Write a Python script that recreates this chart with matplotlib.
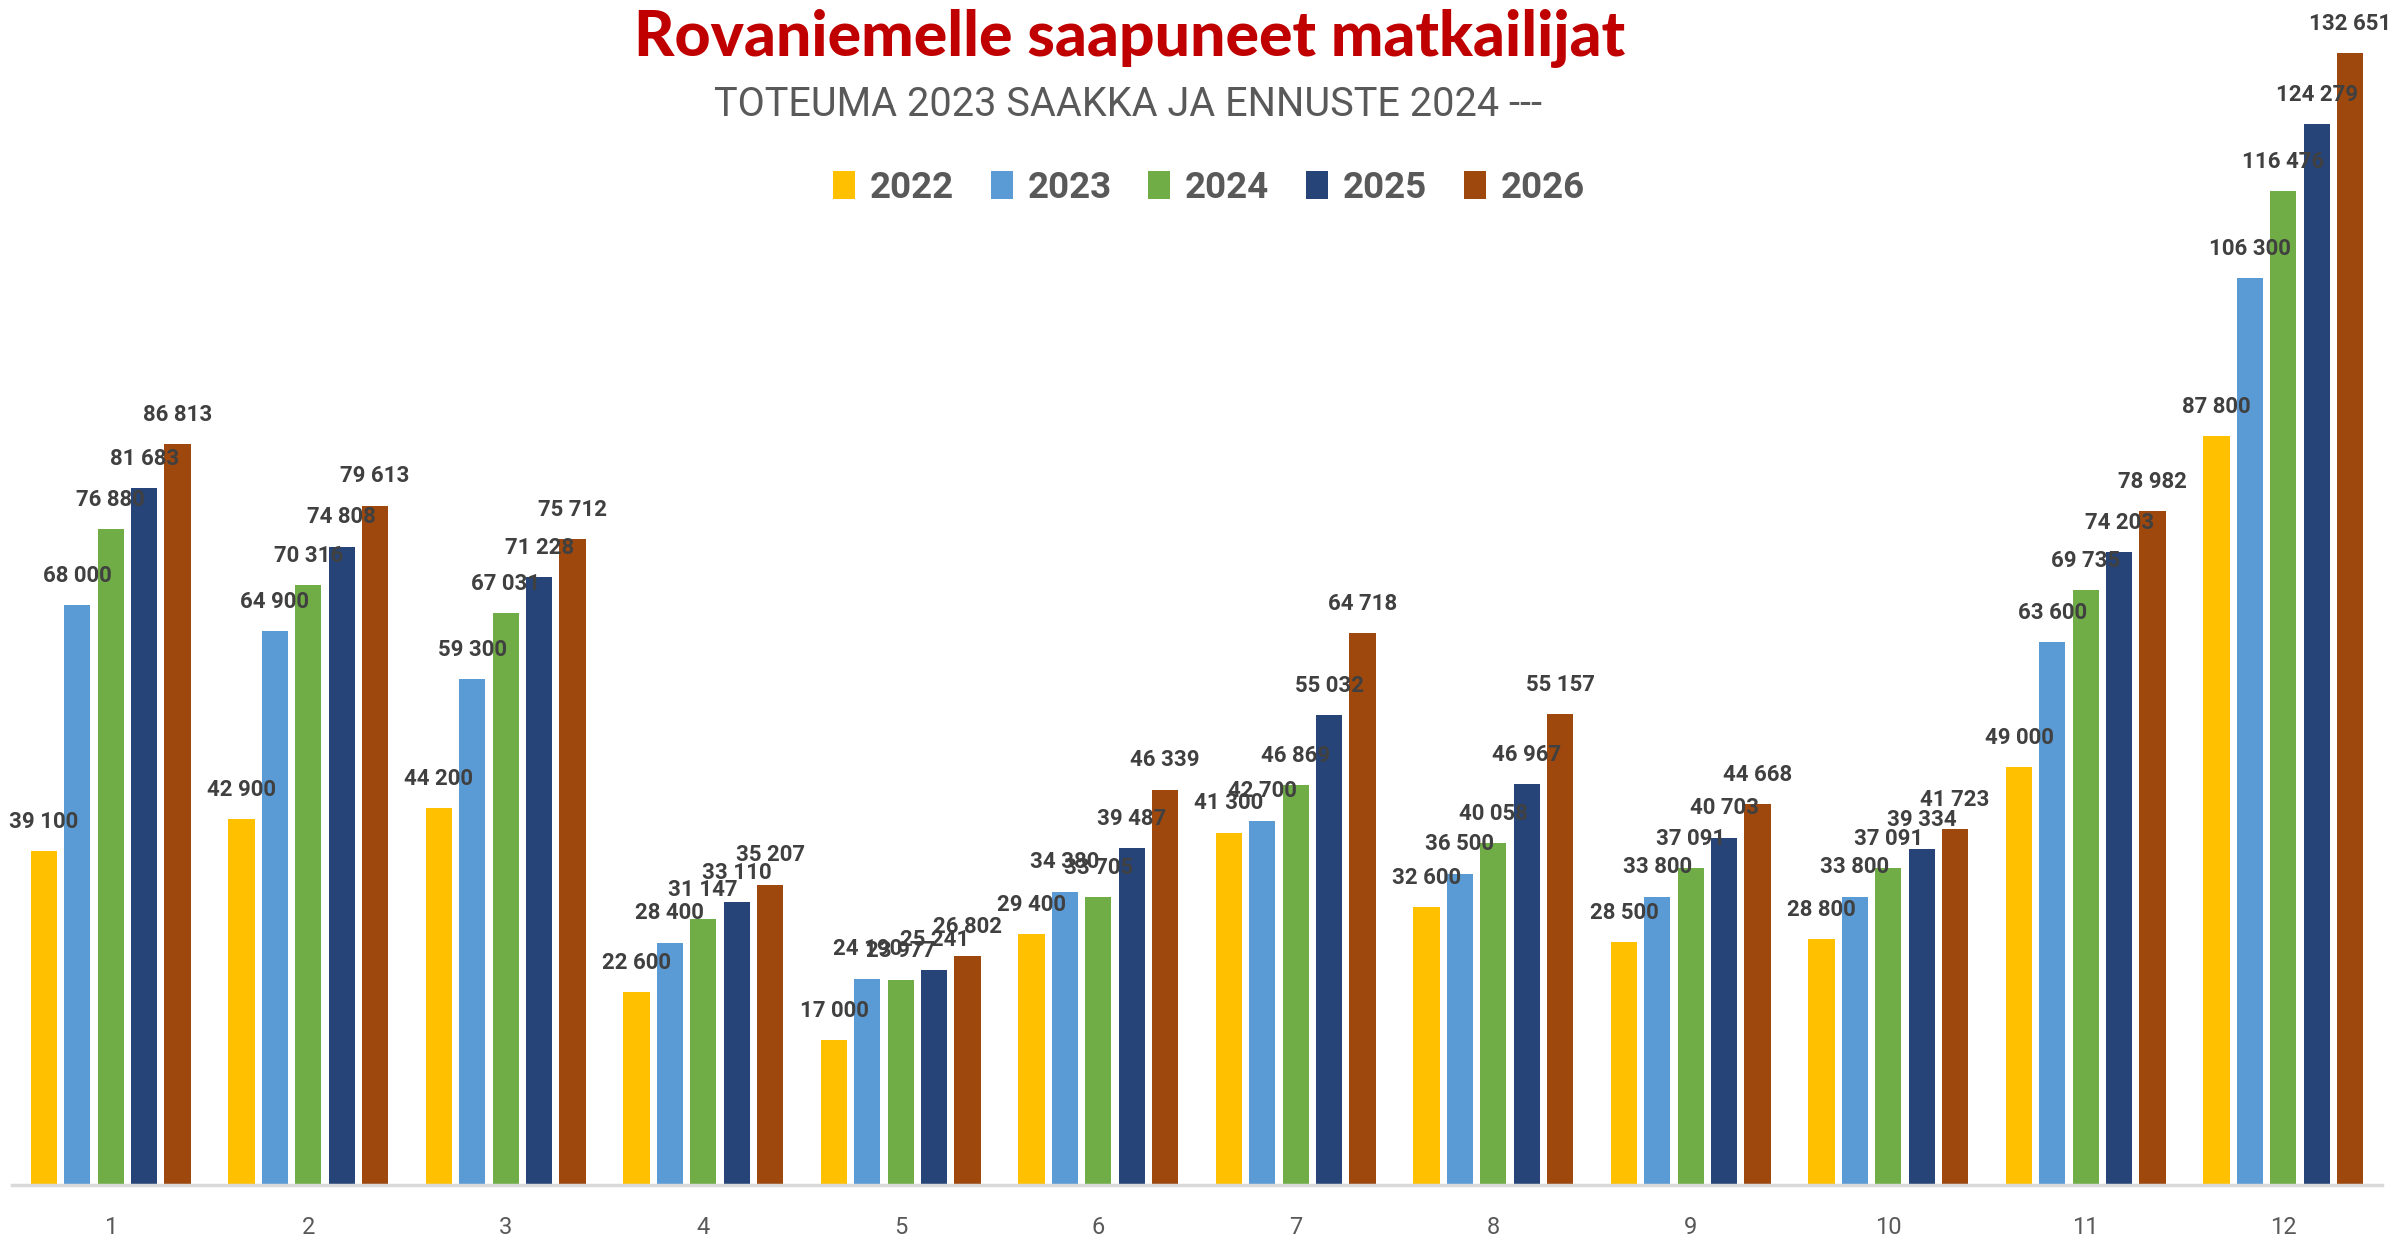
"""
Rovaniemelle saapuneet matkailijat: monthly arrivals 2022-2026
(actuals up to 2023, forecast from 2024 on), grouped bar chart.
"""
import matplotlib
matplotlib.use("Agg")
import matplotlib.pyplot as plt
from matplotlib.patches import Patch
import numpy as np

MONTHS = [str(m) for m in range(1, 13)]
YEARS = ["2022", "2023", "2024", "2025", "2026"]

V2022 = [39100, 42900, 44200, 22600, 17000, 29400, 41300, 32600, 28500, 28800, 49000, 87800]
V2023 = [68000, 64900, 59300, 28400, 24190, 34380, 42700, 36500, 33800, 33800, 63600, 106300]
V2024 = [76880, 70316, 67031, 31147, 23977, 33705, 46869, 40058, 37091, 37091, 69735, 116476]
V2025 = [81683, 74808, 71228, 33110, 25241, 39487, 55032, 46967, 40703, 39334, 74203, 124279]
V2026 = [86813, 79613, 75712, 35207, 26802, 46339, 64718, 55157, 44668, 41723, 78982, 132651]

SERIES = [V2022, V2023, V2024, V2025, V2026]
COLORS = ["#FFC000", "#5B9BD5", "#70AD47", "#264478", "#9E480E"]

TITLE = "Rovaniemelle saapuneet matkailijat"
SUBTITLE = "TOTEUMA 2023 SAAKKA JA ENNUSTE 2024 ---"


def fmt(v):
    # finnish style thousands separator (space)
    return f"{v:,}".replace(",", " ")


fig = plt.figure(figsize=(23.94, 12.36), dpi=100)
ax = fig.add_axes([12 / 2394, 51 / 1236, 2370 / 2394, 0.9528])

x = np.arange(len(MONTHS))
pitch = 0.169
width = 0.132
for i, (vals, col) in enumerate(zip(SERIES, COLORS)):
    pos = x + (i - 2) * pitch
    ax.bar(pos, vals, width, color=col, edgecolor="none", zorder=2)
    for px, v in zip(pos, vals):
        ax.annotate(fmt(v), (px, v), xytext=(0, 21), textcoords="offset points",
                    ha="center", va="center", fontsize=16, fontweight="bold",
                    family="Roboto", color="#404040", zorder=3)

ax.set_xlim(-0.5, len(MONTHS) - 0.5)
ax.set_ylim(0, 138000)
ax.set_yticks([])
ax.set_xticks(x)
ax.set_xticklabels(MONTHS, family="Roboto", fontsize=17, color="#595959")
ax.tick_params(axis="x", length=0, pad=22)
for side in ("top", "right", "left"):
    ax.spines[side].set_visible(False)
ax.spines["bottom"].set_color("#D9D9D9")
ax.spines["bottom"].set_linewidth(2.5)
ax.spines["bottom"].set_zorder(4)

fig.text(1130 / 2394, 1 - 38 / 1236, TITLE, ha="center", va="center",
         family="Lato", fontweight="black", fontsize=45, color="#C00000")
fig.text(1128 / 2394, 1 - 104 / 1236, SUBTITLE, ha="center", va="center",
         family="Roboto", fontsize=28.5, color="#595959")

handles = [Patch(facecolor=c, edgecolor="none", label=y) for y, c in zip(YEARS, COLORS)]
leg = fig.legend(handles=handles, loc="center", bbox_to_anchor=(1209 / 2394, 1 - 188 / 1236),
                 ncol=5, frameon=False, handlelength=0.6, handleheight=0.8,
                 handletextpad=0.4, columnspacing=1.0,
                 prop={"family": "Roboto", "weight": "bold", "size": 26.5})
for t in leg.get_texts():
    t.set_color("#595959")

fig.savefig("out.png", dpi=100)
